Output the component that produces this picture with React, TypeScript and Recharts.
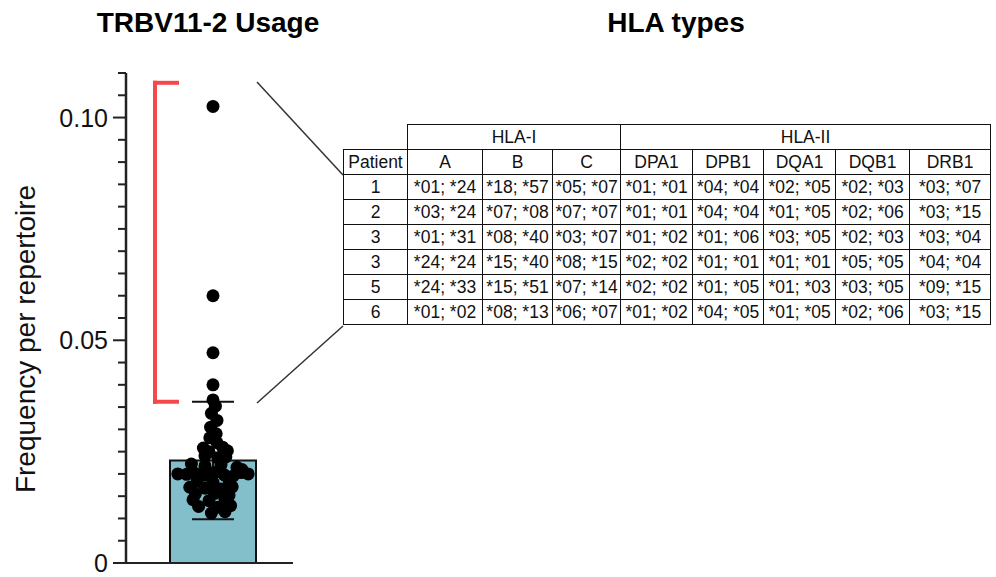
import React from "react"
import {
  ComposedChart,
  Bar,
  ErrorBar,
  Scatter,
  XAxis,
  YAxis,
  ReferenceLine,
} from "recharts"

// bar summary (mean ± SD) for the single gene segment
const categories = ["TRBV11-2"]
const meanValues = [0.023]
const sdValues = [0.0132]

// per-repertoire frequencies, with horizontal swarm offsets
const dotOffsets = [
  0, 0, 0, 0, 0, 0.03, -0.02, 0.05, -0.03, 0.04, -0.04, 0.05,
  -0.12, 0.12, -0.05, 0.18,
  -0.1, 0.06, 0.16,
  -0.27, -0.1, 0.1, 0.3, 0.36,
  -0.44, -0.33, -0.22, -0.1, 0.02, 0.14, 0.25, 0.35, 0.44,
  -0.2, 0.0, 0.2,
  -0.29, -0.1, 0.1, 0.24,
  -0.22, 0.02, 0.2,
  -0.25, -0.05, 0.15,
  -0.18, 0.06, 0.22,
  -0.02, 0.15,
]
const dotValues = [
  0.1025, 0.06, 0.0472, 0.04, 0.0366, 0.0352, 0.0336, 0.032, 0.0305, 0.029, 0.0281, 0.027,
  0.0258, 0.026, 0.025, 0.0252,
  0.024, 0.0236, 0.0238,
  0.0222, 0.0218, 0.022, 0.0215, 0.021,
  0.02, 0.0199, 0.0201, 0.0197, 0.0203, 0.0198, 0.0195, 0.0203, 0.02,
  0.0183, 0.0181, 0.0185,
  0.017, 0.0168, 0.0166, 0.0171,
  0.0155, 0.0156, 0.0152,
  0.0142, 0.014, 0.0143,
  0.0127, 0.0125, 0.0129,
  0.0112, 0.0115,
]

// range of the outlying repertoires (above mean + SD)
const bracketLow = 0.0362
const bracketHigh = 0.1078

const yTicks = Array.from({ length: 23 }, (_, i) => Math.round(i * 5) / 1000)

// HLA typing table
const hlaClassI = ["A", "B", "C"]
const hlaClassII = ["DPA1", "DPB1", "DQA1", "DQB1", "DRB1"]
const patients = ["1", "2", "3", "3", "5", "6"]
const alleleA = ["*01; *24", "*03; *24", "*01; *31", "*24; *24", "*24; *33", "*01; *02"]
const alleleB = ["*18; *57", "*07; *08", "*08; *40", "*15; *40", "*15; *51", "*08; *13"]
const alleleC = ["*05; *07", "*07; *07", "*03; *07", "*08; *15", "*07; *14", "*06; *07"]
const alleleDPA1 = ["*01; *01", "*01; *01", "*01; *02", "*02; *02", "*02; *02", "*01; *02"]
const alleleDPB1 = ["*04; *04", "*04; *04", "*01; *06", "*01; *01", "*01; *05", "*04; *05"]
const alleleDQA1 = ["*02; *05", "*01; *05", "*03; *05", "*01; *01", "*01; *03", "*01; *05"]
const alleleDQB1 = ["*02; *03", "*02; *06", "*02; *03", "*05; *05", "*03; *05", "*02; *06"]
const alleleDRB1 = ["*03; *07", "*03; *15", "*03; *04", "*04; *04", "*09; *15", "*03; *15"]

const barData = categories.map((name, i) => ({ name, mean: meanValues[i], sd: sdValues[i] }))
const dotData = dotValues.map((value, i) => ({ offset: dotOffsets[i], value }))
const alleleColumns = [alleleA, alleleB, alleleC, alleleDPA1, alleleDPB1, alleleDQA1, alleleDQB1, alleleDRB1]
const colWidths = [64, 75, 70, 68, 72, 71, 72, 74, 81]

const FONT = "'Liberation Sans', Arial, sans-serif"
const RED = "#f4484b"

const YTick = ({ x, y, payload }: { x: number; y: number; payload: { value: number } }) => {
  const v = payload.value
  const major = Math.abs(v * 20 - Math.round(v * 20)) < 1e-6
  return (
    <g>
      <line x1={x - (major ? 13 : 8)} x2={x} y1={y} y2={y} stroke="#222" strokeWidth={2} />
      {major && (
        <text x={x - 18} y={y} dy={9} textAnchor="end" fontSize={25} fontFamily={FONT} fill="#111">
          {v === 0 ? "0" : v.toFixed(2)}
        </text>
      )}
    </g>
  )
}

const Dot = (props: { cx?: number; cy?: number }) => (
  <circle cx={props.cx} cy={props.cy} r={6.5} fill="#000" />
)

const cell: React.CSSProperties = {
  border: "1.5px solid #111",
  height: 25,
  padding: 0,
  textAlign: "center",
  verticalAlign: "middle",
  boxSizing: "border-box",
  whiteSpace: "nowrap",
}

export default function App() {
  return (
    <div style={{ position: "absolute", left: 0, top: 0, width: 996, height: 577, background: "#fff", fontFamily: FONT }}>
      <ComposedChart
        width={300}
        height={577}
        data={barData}
        margin={{ top: 73, right: 7, bottom: 13, left: 125 }}
        style={{ position: "absolute", left: 0, top: 0 }}
      >
        <XAxis
          xAxisId="cat"
          dataKey="name"
          tick={false}
          tickLine={false}
          height={1}
          padding={{ left: 7, right: 0 }}
          axisLine={{ stroke: "#222", strokeWidth: 2 }}
        />
        <XAxis xAxisId="swarm" dataKey="offset" type="number" domain={[-1, 1]} hide padding={{ left: 7, right: 0 }} />
        <YAxis
          domain={[0, 0.11]}
          ticks={yTicks}
          interval={0}
          width={1}
          tickSize={0}
          tickMargin={0}
          tickLine={false}
          tick={YTick as any}
          axisLine={{ stroke: "#222", strokeWidth: 2.5 }}
          allowDataOverflow
        />
        <Bar xAxisId="cat" dataKey="mean" barSize={86} fill="#82bfca" stroke="#111" strokeWidth={2} isAnimationActive={false}>
          <ErrorBar dataKey="sd" width={21} stroke="#111" strokeWidth={2} direction="y" />
        </Bar>
        <Scatter xAxisId="swarm" data={dotData} dataKey="value" shape={Dot as any} isAnimationActive={false} />
        <ReferenceLine xAxisId="swarm" segment={[{ x: -0.725, y: bracketLow }, { x: -0.725, y: bracketHigh }]} stroke={RED} strokeWidth={4} strokeLinecap="square" ifOverflow="visible" />
        <ReferenceLine xAxisId="swarm" segment={[{ x: -0.725, y: bracketHigh }, { x: -0.45, y: bracketHigh }]} stroke={RED} strokeWidth={4} strokeLinecap="square" ifOverflow="visible" />
        <ReferenceLine xAxisId="swarm" segment={[{ x: -0.725, y: bracketLow }, { x: -0.45, y: bracketLow }]} stroke={RED} strokeWidth={4} strokeLinecap="square" ifOverflow="visible" />
      </ComposedChart>

      <svg width={996} height={577} style={{ position: "absolute", left: 0, top: 0, pointerEvents: "none" }}>
        <text x={208} y={32} textAnchor="middle" fontSize={28} fontWeight="bold" fontFamily={FONT} fill="#000">TRBV11-2 Usage</text>
        <text x={676} y={32} textAnchor="middle" fontSize={28} fontWeight="bold" fontFamily={FONT} fill="#000">HLA types</text>
        <text transform="translate(35,339) rotate(-90)" textAnchor="middle" fontSize={28} fontFamily={FONT} fill="#111">Frequency per repertoire</text>
        <line x1={257} y1={82} x2={343} y2={175} stroke="#333" strokeWidth={1.5} />
        <line x1={257} y1={403} x2={343} y2={326} stroke="#333" strokeWidth={1.5} />
      </svg>

      <table
        style={{
          position: "absolute",
          left: 343,
          top: 124,
          borderCollapse: "collapse",
          tableLayout: "fixed",
          width: colWidths.reduce((a, b) => a + b, 0),
          fontFamily: FONT,
          fontSize: 17.5,
          color: "#111",
        }}
      >
        <colgroup>
          {colWidths.map((w, i) => (
            <col key={i} style={{ width: w }} />
          ))}
        </colgroup>
        <tbody>
          <tr>
            <td style={{ ...cell, border: "none" }} />
            <td style={cell} colSpan={hlaClassI.length}>HLA-I</td>
            <td style={cell} colSpan={hlaClassII.length}>HLA-II</td>
          </tr>
          <tr>
            <td style={cell}>Patient</td>
            {[...hlaClassI, ...hlaClassII].map((g) => (
              <td key={g} style={cell}>{g}</td>
            ))}
          </tr>
          {patients.map((p, r) => (
            <tr key={r}>
              <td style={cell}>{p}</td>
              {alleleColumns.map((col, c) => (
                <td key={c} style={cell}>{col[r]}</td>
              ))}
            </tr>
          ))}
        </tbody>
      </table>
    </div>
  )
}
